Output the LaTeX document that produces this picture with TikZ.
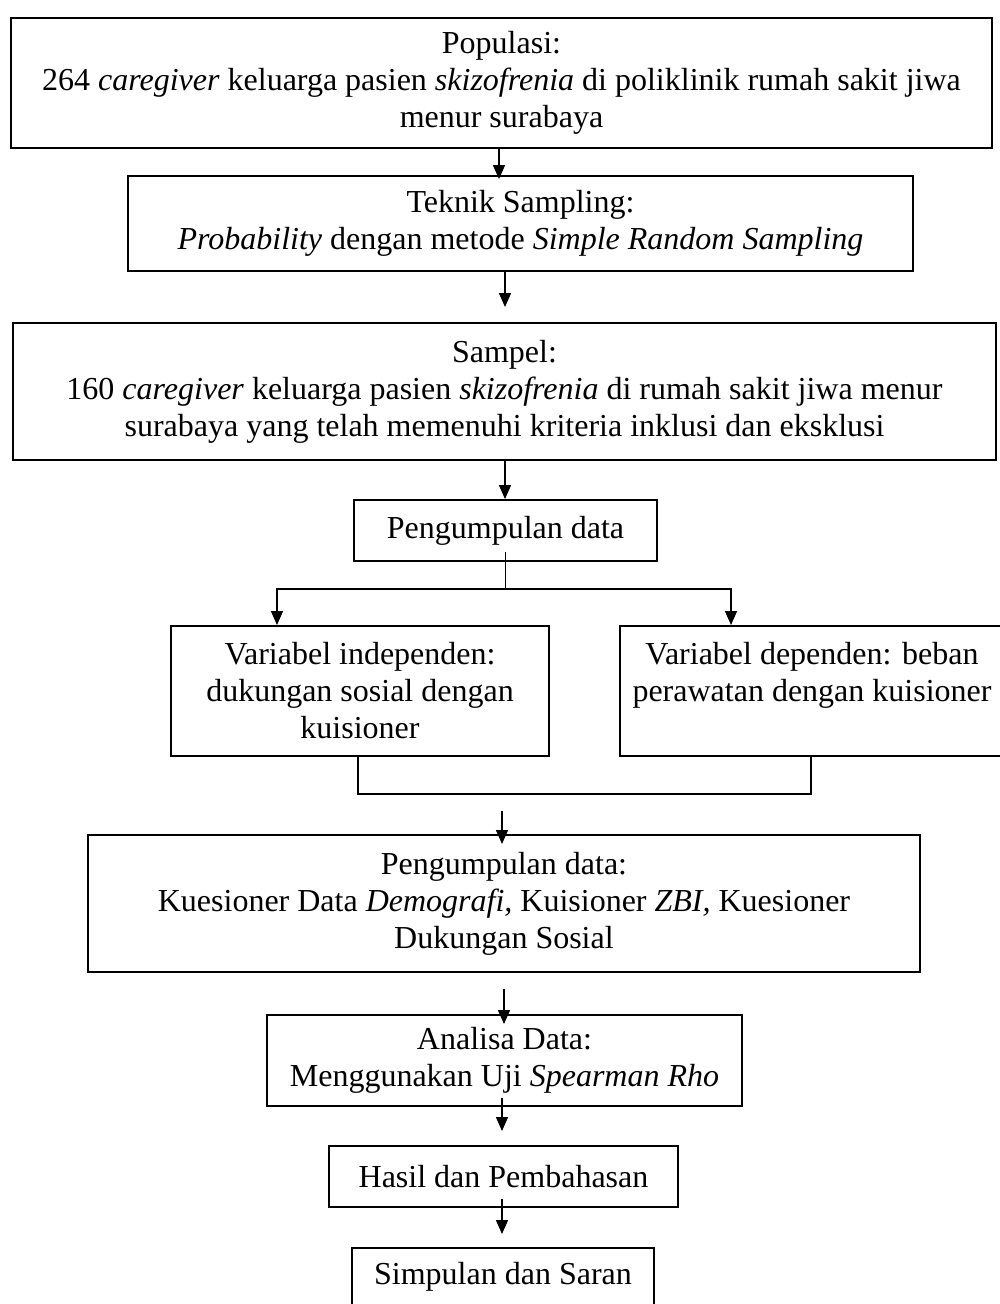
\documentclass[tikz,border=0pt]{standalone}
\usepackage{fontspec}
\setmainfont{Liberation Serif}
\usetikzlibrary{arrows.meta,calc}
\tikzset{
  boxnode/.style={draw=black, line width=2pt, inner sep=0pt, align=center,
    font=\fontsize{32}{37}\selectfont},
  arr/.style={line width=1.5pt, -{Triangle[length=14pt,width=12pt]}},
  thinl/.style={line width=1pt},
  brack/.style={line width=2pt}
}
\begin{document}
\begin{tikzpicture}[x=1pt,y=-1pt]
\useasboundingbox (0,0) rectangle (1000,1304);
\fill[white] (0,0) rectangle (1000,1304);
\clip (0,0) rectangle (1000,1304);

\node[boxnode, minimum width=981pt, minimum height=130pt] (b1) at (501.5,83)
  {Populasi:\\264 \textit{caregiver} keluarga pasien \textit{skizofrenia} di poliklinik rumah sakit jiwa\\menur surabaya};
\node[boxnode, minimum width=785pt, minimum height=95pt] (b2) at (520.5,223.5)
  {Teknik Sampling:\\\textit{Probability} dengan metode \textit{Simple Random Sampling}};
\node[boxnode, minimum width=983pt, minimum height=137pt] (b3) at (504.5,391.5)
  {Sampel:\\160 \textit{caregiver} keluarga pasien \textit{skizofrenia} di rumah sakit jiwa menur\\surabaya yang telah memenuhi kriteria inklusi dan eksklusi};
\node[boxnode, minimum width=303pt, minimum height=61pt] (b4) at (505.5,530.5)
  {Pengumpulan data};
\node[boxnode, minimum width=378pt, minimum height=130pt] (b5) at (360,691)
  {Variabel independen:\\dukungan sosial dengan\\kuisioner};
\node[boxnode, minimum width=384pt, minimum height=130pt] (b6) at (812,691)
  {Variabel dependen: beban\\perawatan dengan kuisioner\\\phantom{kuisioner}};
\node[boxnode, minimum width=832pt, minimum height=137pt] (b7) at (504,903.5)
  {Pengumpulan data:\\Kuesioner Data \textit{Demografi,} Kuisioner \textit{ZBI,} Kuesioner\\Dukungan Sosial};
\node[boxnode, minimum width=475pt, minimum height=91pt] (b8) at (504.5,1060.5)
  {Analisa Data:\\Menggunakan Uji \textit{Spearman Rho}};
\node[boxnode, minimum width=349pt, minimum height=61pt] (b9) at (503.5,1176.5)
  {Hasil dan Pembahasan};
\node[boxnode, minimum width=302pt, minimum height=58pt] (b10) at (503,1277)
  {Simpulan dan Saran};

% arrows
\draw[arr] ($(b1.south)+(-2.5,0)$) -- ($(b2.north)+(-21.5,4)$);
\draw[arr] ($(b2.south)+(-15.5,0)$) -- ($(b3.north)+(0.5,-15)$);
\draw[arr] ($(b3.south)+(0.5,0)$) -- ($(b4.north)+(-0.5,0)$);

% branch
\coordinate (j) at ($(b4.south)+(-0.5,27)$);
\draw[thinl] ($(b4.south)+(-0.5,-10)$) -- (j);
\draw[arr] (j) -| ($(b5.north)+(-83,0)$);
\draw[arr] (j) -| ($(b6.north)+(-81,0)$);

% bracket
\draw[brack] ($(b5.south)+(-2,0)$) -- ($(b5.south)+(-2,37)$) -| ($(b6.south)+(-1,0)$);
\coordinate (bs) at ($(b5.south)+(142,54)$);
\draw[arr] (bs) -- ($(b7.north)+(-2,10)$);

\draw[arr] ($(b7.south)+(0,16)$) -- ($(b8.north)+(-0.5,10)$);
\draw[arr] ($(b8.south)+(-2.5,-9)$) -- ($(b9.north)+(-1.5,-14)$);
\draw[arr] ($(b9.south)+(-1.5,-9)$) -- ($(b10.north)+(-1,-13)$);
\end{tikzpicture}
\end{document}
